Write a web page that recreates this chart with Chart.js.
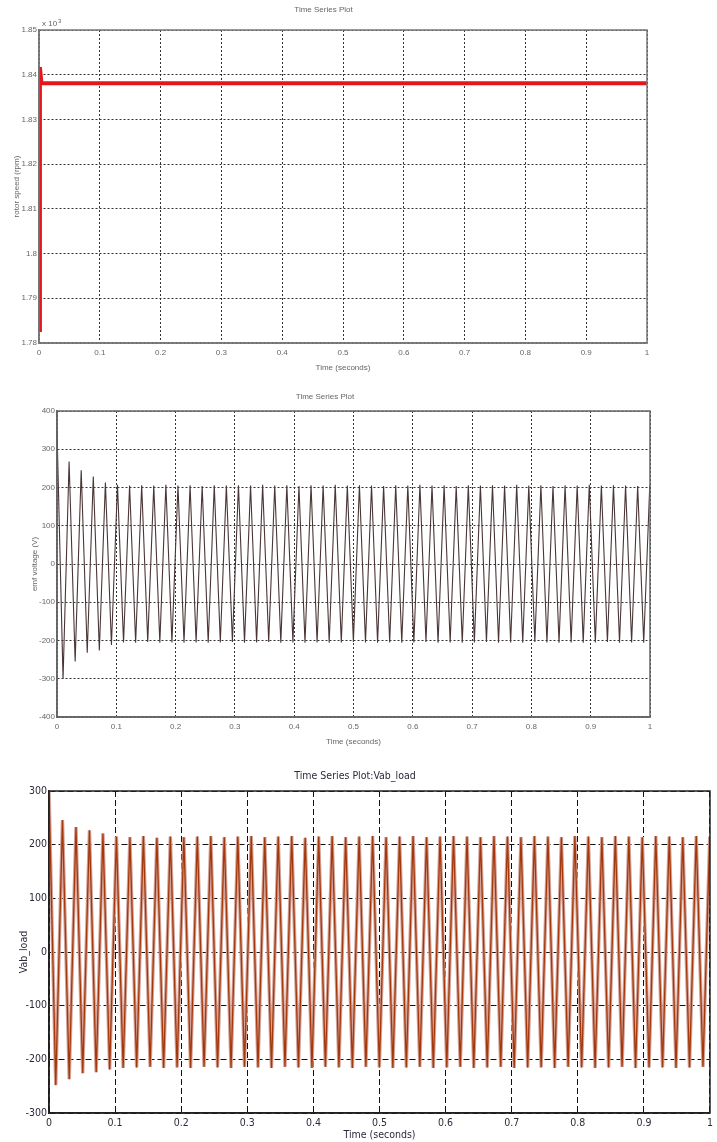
<!DOCTYPE html>
<html>
<head>
<meta charset="utf-8">
<script src="https://cdn.jsdelivr.net/npm/chart.js@4/dist/chart.umd.min.js"></script>
<style>
  body { margin: 0; background: #fff; width: 717px; height: 1142px; overflow: hidden; }
  .plot { position: absolute; left: 0; }
  canvas { display: block; }
</style>
</head>
<body>
<div class="plot" style="top:0px"><canvas id="speedChart" width="717" height="380"></canvas></div>
<div class="plot" style="top:380px"><canvas id="emfChart" width="717" height="380"></canvas></div>
<div class="plot" style="top:760px"><canvas id="vabChart" width="717" height="382"></canvas></div>
<script>
// ---- data ----
const xTickValues = [0, 0.1, 0.2, 0.3, 0.4, 0.5, 0.6, 0.7, 0.8, 0.9, 1];
const xTickLabels = ['0', '0.1', '0.2', '0.3', '0.4', '0.5', '0.6', '0.7', '0.8', '0.9', '1'];

// rotor speed (rpm), axis shown as x 10^3
const speedTime = [0, 0.0015, 0.004, 1];
const speedValue = [1782.9, 1841.7, 1838.1, 1838.1];
const speedTickValues = [1780, 1790, 1800, 1810, 1820, 1830, 1840, 1850];
const speedTickLabels = ['1.78', '1.79', '1.8', '1.81', '1.82', '1.83', '1.84', '1.85'];

// times of the peaks / troughs of the ac traces (s)
const waveTime = [
  0, 0.0102, 0.0204, 0.0306, 0.0408, 0.051, 0.0612, 0.0714, 0.0816, 0.0918,
  0.102, 0.1122, 0.1224, 0.1326, 0.1428, 0.153, 0.1632, 0.1734, 0.1836, 0.1938,
  0.204, 0.2142, 0.2244, 0.2346, 0.2448, 0.255, 0.2652, 0.2754, 0.2856, 0.2958,
  0.306, 0.3162, 0.3264, 0.3366, 0.3468, 0.357, 0.3672, 0.3774, 0.3876, 0.3978,
  0.408, 0.4182, 0.4284, 0.4386, 0.4488, 0.459, 0.4692, 0.4794, 0.4896, 0.4998,
  0.51, 0.5202, 0.5304, 0.5406, 0.5508, 0.561, 0.5712, 0.5814, 0.5916, 0.6018,
  0.612, 0.6222, 0.6324, 0.6426, 0.6528, 0.663, 0.6732, 0.6834, 0.6936, 0.7038,
  0.714, 0.7242, 0.7344, 0.7446, 0.7548, 0.765, 0.7752, 0.7854, 0.7956, 0.8058,
  0.816, 0.8262, 0.8364, 0.8466, 0.8568, 0.867, 0.8772, 0.8874, 0.8976, 0.9078,
  0.918, 0.9282, 0.9384, 0.9486, 0.9588, 0.969, 0.9792, 0.9894, 0.9996
];

// emf voltage (V)
const emfValue = [
  350, -300, 268, -255, 245, -232, 229, -226, 213, -212,
  207, -205, 205, -206, 206, -204, 205, -206, 207, -205,
  205, -206, 206, -205, 204, -206, 206, -205, 205, -204,
  206, -206, 205, -205, 207, -204, 205, -206, 206, -205,
  204, -206, 206, -205, 205, -206, 207, -205, 205, -204,
  206, -205, 205, -206, 204, -205, 206, -206, 205, -205,
  207, -204, 205, -206, 206, -205, 204, -206, 206, -205,
  205, -204, 206, -206, 205, -205, 207, -206, 205, -204,
  206, -205, 204, -206, 206, -205, 205, -206, 207, -205,
  205, -204, 206, -206, 205, -205, 204, -206, 205
];
const emfTickValues = [-400, -300, -200, -100, 0, 100, 200, 300, 400];
const emfTickLabels = ['-400', '-300', '-200', '-100', '0', '100', '200', '300', '400'];

// Vab_load
const vabValue = [
  300, -248, 246, -237, 233, -226, 227, -224, 221, -219,
  215, -216, 214, -215, 216, -214, 213, -216, 215, -215,
  214, -216, 215, -214, 216, -215, 214, -216, 215, -214,
  216, -215, 214, -216, 215, -214, 216, -215, 213, -216,
  215, -214, 216, -215, 214, -216, 215, -214, 216, -215,
  214, -216, 215, -215, 216, -214, 214, -216, 215, -215,
  216, -214, 215, -216, 214, -215, 216, -214, 215, -216,
  214, -215, 216, -215, 215, -216, 214, -214, 216, -215,
  215, -216, 214, -215, 216, -214, 215, -216, 214, -215,
  216, -215, 215, -216, 214, -215, 216, -214, 215
];
const vabTickValues = [-300, -200, -100, 0, 100, 200, 300];
const vabTickLabels = ['-300', '-200', '-100', '0', '100', '200', '300'];

// ---- helpers ----
const pts = (xs, ys) => xs.map((x, i) => ({ x: x, y: ys[i] }));

// full box round the plot area, like matlab "box on"
const framePlugin = {
  id: 'frame',
  afterDatasetsDraw(chart, args, opts) {
    const a = chart.chartArea;
    const c = chart.ctx;
    c.save();
    c.strokeStyle = opts.color;
    c.lineWidth = opts.width;
    c.strokeRect(a.left, a.top, a.right - a.left, a.bottom - a.top);
    c.restore();
  }
};

// "x 10^3" over the y axis
const exponentPlugin = {
  id: 'exponent',
  afterDraw(chart, args, opts) {
    if (!opts.text) return;
    const a = chart.chartArea;
    const c = chart.ctx;
    c.save();
    c.fillStyle = opts.color;
    c.font = '8px "Liberation Sans"';
    c.textBaseline = 'bottom';
    c.fillText(opts.text, a.left + 3, a.top - 2);
    const w = c.measureText(opts.text).width;
    c.font = '6px "Liberation Sans"';
    c.fillText(opts.sup, a.left + 4 + w, a.top - 6);
    c.restore();
  }
};

function timeSeries(id, s) {
  const ctx = document.getElementById(id).getContext('2d');
  const font = { family: s.family, size: s.size };
  return new Chart(ctx, {
    type: 'line',
    data: { datasets: s.datasets },
    options: {
      responsive: false,
      animation: false,
      events: [],
      layout: { padding: { left: 0, top: 0, right: s.rightPad, bottom: 0 } },
      elements: { point: { radius: 0 }, line: { tension: 0 } },
      plugins: {
        legend: { display: false },
        tooltip: { enabled: false },
        title: {
          display: true,
          text: s.title,
          color: s.textColor,
          font: { family: s.family, size: s.titleSize, weight: 'normal' },
          padding: s.titlePad
        },
        frame: { color: s.frameColor, width: s.frameWidth },
        exponent: { text: s.expText, sup: s.expSup, color: s.textColor }
      },
      scales: {
        x: {
          type: 'linear',
          min: 0,
          max: 1,
          afterBuildTicks: (scale) => { scale.ticks = xTickValues.map((v) => ({ value: v })); },
          afterFit: (scale) => { scale.height = s.xAxisHeight; },
          ticks: {
            color: s.textColor,
            font: font,
            padding: s.xTickPad,
            maxRotation: 0,
            autoSkip: false,
            callback: (v, i) => xTickLabels[i]
          },
          grid: { color: s.gridColor, lineWidth: 1, drawTicks: false },
          border: { display: true, color: s.frameColor, width: s.frameWidth, dash: s.dash },
          title: {
            display: true,
            text: 'Time (seconds)',
            color: s.textColor,
            font: font,
            padding: { top: 0, bottom: s.xTitlePad }
          }
        },
        y: {
          type: 'linear',
          min: s.yMin,
          max: s.yMax,
          afterBuildTicks: (scale) => { scale.ticks = s.yTickValues.map((v) => ({ value: v })); },
          afterFit: (scale) => { scale.width = s.left; },
          ticks: {
            color: s.textColor,
            font: font,
            padding: 2,
            autoSkip: false,
            callback: (v, i) => s.yTickLabels[i]
          },
          grid: { color: s.gridColor, lineWidth: 1, drawTicks: false },
          border: { display: true, color: s.frameColor, width: s.frameWidth, dash: s.dash },
          title: {
            display: true,
            text: s.yTitle,
            color: s.textColor,
            font: font,
            padding: { top: s.yTitlePad, bottom: 0 }
          }
        }
      }
    },
    plugins: [framePlugin, exponentPlugin]
  });
}

// ---- chart 1 : rotor speed ----
timeSeries('speedChart', {
  title: 'Time Series Plot',
  yTitle: 'rotor speed (rpm)',
  family: '"Liberation Sans"', size: 8, titleSize: 8,
  textColor: '#666', gridColor: '#333', frameColor: '#777', frameWidth: 1.5,
  dash: [2, 2],
  left: 39, rightPad: 70, xAxisHeight: 37,
  titlePad: { top: 5, bottom: 15.4 },
  xTickPad: 5, xTitlePad: 7, yTitlePad: 12,
  yMin: 1780, yMax: 1850,
  yTickValues: speedTickValues, yTickLabels: speedTickLabels,
  expText: 'x 10', expSup: '3',
  datasets: [{
    data: pts(speedTime, speedValue),
    borderColor: '#e5161c',
    borderWidth: 4
  }]
});

// ---- chart 2 : emf voltage ----
timeSeries('emfChart', {
  title: 'Time Series Plot',
  yTitle: 'emf voltage (V)',
  family: '"Liberation Sans"', size: 8, titleSize: 8,
  textColor: '#666', gridColor: '#333', frameColor: '#666', frameWidth: 1.5,
  dash: [2, 2],
  left: 57, rightPad: 67, xAxisHeight: 43,
  titlePad: { top: 12, bottom: 9.4 },
  xTickPad: 5, xTitlePad: 13, yTitlePad: 30,
  yMin: -400, yMax: 400,
  yTickValues: emfTickValues, yTickLabels: emfTickLabels,
  datasets: [{
    data: pts(waveTime, emfValue),
    borderColor: '#4a3636',
    borderWidth: 1.1
  }]
});

// ---- chart 3 : Vab_load ----
// dark trace first so it is painted over the pale one
timeSeries('vabChart', {
  title: 'Time Series Plot:Vab_load',
  yTitle: 'Vab_load',
  family: '"Liberation Sans Narrow", "DejaVu Sans Condensed", "Liberation Sans"', size: 10.5, titleSize: 10.5,
  textColor: '#2b2b3a', gridColor: '#111', frameColor: '#222', frameWidth: 1.5,
  dash: [6, 3],
  left: 49, rightPad: 7, xAxisHeight: 29,
  titlePad: { top: 9.6, bottom: 8.8 },
  xTickPad: 4, xTitlePad: 0, yTitlePad: 18,
  yMin: -300, yMax: 300,
  yTickValues: vabTickValues, yTickLabels: vabTickLabels,
  datasets: [
    { data: pts(waveTime, vabValue), borderColor: '#a4380c', borderWidth: 1.3 },
    { data: pts(waveTime, vabValue), borderColor: '#d3a398', borderWidth: 3.4 }
  ]
});
</script>
</body>
</html>
